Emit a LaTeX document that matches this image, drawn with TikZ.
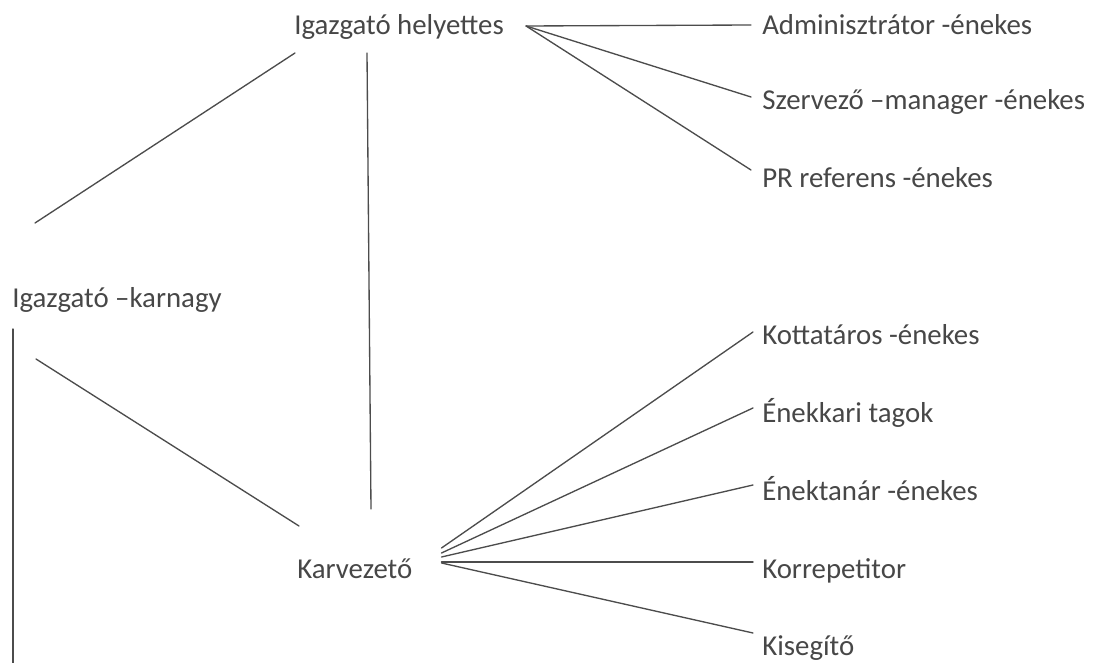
\documentclass[tikz,border=0pt]{standalone}
\usepackage{fontspec}
\setmainfont{Carlito}
\usepackage{tikz}
\usetikzlibrary{calc}

\begin{document}
\begin{tikzpicture}[line cap=round,line join=round,x=0.025cm,y=-0.025cm,
  every node/.style={anchor=base west,inner sep=0pt,text=black!72,font=\fontsize{20.5}{24}\selectfont},
  kapcsolo/.style={color=black!70,line width=0.95pt}]
\useasboundingbox (0,0) rectangle (1100,663);
\node (helyettes) at (294,35) {Igazgató helyettes};
\node (karnagy) at (12,307) {Igazgató –karnagy};
\node (karvezeto) at (297,578) {Karvezető};
\foreach \nev/\szoveg/\y in {admin/Adminisztrátor -énekes/35,szervezo/Szervező –manager -énekes/110,pr/PR referens -énekes/188}
\node (\nev) at (762,\y) {\szoveg};
\foreach \nev/\szoveg/\y in {kotta/Kottatáros -énekes/345,enekkar/Énekkari tagok/422,enektanar/Énektanár -énekes/500,korrep/Korrepetitor/578,kiseg/Kisegítő/655}
\node (\nev) at (762,\y) {\szoveg};
\foreach \nev/\dy in {admin/-10,szervezo/-13,pr/-18}
\draw[kapcsolo] ($(helyettes.base east)+(22,-9)$) -- ($(\nev.base west)+(-11,\dy)$);
\foreach \nev/\ky/\dy in {kotta/-30/-13,enekkar/-25/-14,enektanar/-21/-15,korrep/-16/-16,kiseg/-15/-22}
\draw[kapcsolo] ($(karvezeto.base east)+(29,\ky)$) -- ($(\nev.base west)+(-9,\dy)$);
\draw[kapcsolo] ($(karnagy.base west)+(23,-84)$) -- ($(helyettes.base west)+(1,18)$);
\draw[kapcsolo] ($(helyettes.base west)+(73,18)$) -- ($(karvezeto.base west)+(74,-69)$);
\draw[kapcsolo] ($(karnagy.base west)+(24,52)$) -- ($(karvezeto.base west)+(2,-52)$);
\coordinate (also) at (13,663);
\draw[kapcsolo] ($(karnagy.base west)+(1,22)$) -- (also);
\end{tikzpicture}
\end{document}
